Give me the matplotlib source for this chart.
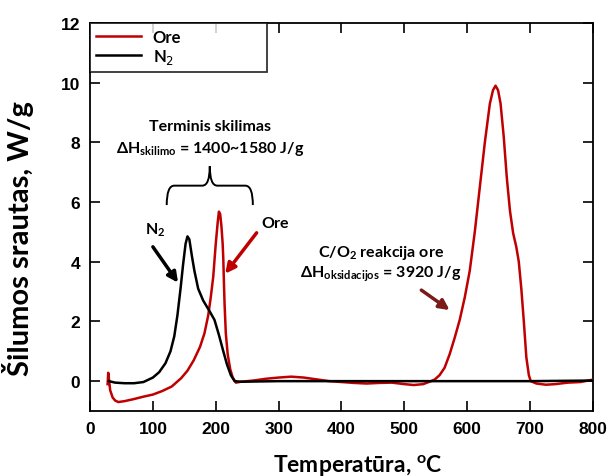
import numpy as np
import matplotlib
matplotlib.use("Agg")
import matplotlib.pyplot as plt
from matplotlib.path import Path
from matplotlib.patches import PathPatch

# DSC curves
ore_T = [28, 29, 30, 32, 36, 40, 45, 55, 70, 85, 100, 115, 130, 145, 155, 165, 175, 182,
         188, 192, 196, 200, 203, 205, 207, 209, 211, 212, 213, 214, 216, 219, 223, 227,
         232, 240, 260, 280, 300, 320, 340, 360, 380, 400, 420, 440, 460, 480, 500, 515,
         530, 540, 548, 556, 564, 572, 580, 588, 596, 604, 612, 620, 628, 636, 641, 645,
         649, 653, 658, 663, 668, 673, 678, 682, 686, 690, 694, 698, 701, 710, 725, 740,
         760, 780, 800]
ore_y = [-0.1, 0.28, 0.1, -0.3, -0.55, -0.65, -0.7, -0.67, -0.6, -0.52, -0.45, -0.33,
         -0.18, 0.1, 0.35, 0.7, 1.15, 1.6, 2.2, 2.8, 3.5, 4.6, 5.3, 5.68, 5.6, 5.2, 4.6,
         4.1, 3.3, 2.6, 1.6, 0.9, 0.4, 0.12, -0.05, -0.02, 0.02, 0.08, 0.12, 0.15, 0.12,
         0.06, 0.0, -0.03, -0.06, -0.08, -0.06, -0.05, -0.1, -0.13, -0.1, -0.02, 0.05, 0.2,
         0.45, 0.9, 1.45, 2.05, 2.8, 3.7, 5.0, 6.5, 8.0, 9.3, 9.75, 9.9, 9.75, 9.3, 8.2,
         6.8, 5.7, 4.96, 4.5, 4.0, 3.1, 2.0, 0.8, 0.2, 0.0, -0.08, -0.12, -0.1, -0.05,
         -0.03, 0.05]

n2_T = [30, 40, 55, 70, 85, 100, 110, 120, 128, 134, 139, 144, 148, 152, 155, 158, 162,
        166, 172, 180, 190, 198, 205, 212, 218, 224, 230, 240, 300, 400, 500, 600, 700, 800]
n2_y = [0.0, -0.05, -0.07, -0.07, -0.03, 0.12, 0.3, 0.6, 1.0, 1.5, 2.2, 3.1, 3.9, 4.6,
        4.85, 4.75, 4.2, 3.7, 3.1, 2.7, 2.35, 2.05, 1.55, 1.0, 0.55, 0.2, 0.0, -0.02, 0.0,
        0.0, 0.0, 0.0, 0.0, 0.02]

x_ticks = [0, 100, 200, 300, 400, 500, 600, 700, 800]
y_ticks = [0, 2, 4, 6, 8, 10, 12]

RED = "#c00000"
DARKRED = "#7b1a1a"
ann_font = "Lato"
tick_font = "Liberation Sans"

fig = plt.figure(figsize=(6.09, 4.77), dpi=100)
ax = fig.add_axes([0.1478, 0.1363, 0.8259, 0.8134])

ax.plot(ore_T, ore_y, color=RED, lw=1.8, label="Ore", zorder=3)
ax.plot(n2_T, n2_y, color="black", lw=1.8, label="N$_2$", zorder=4)

ax.set_xlim(0, 800)
ax.set_ylim(-1, 12)
ax.set_xticks(x_ticks)
ax.set_yticks(y_ticks)
ax.tick_params(direction="in", length=7, width=1.2, top=True, right=True,
               labelsize=12.5, pad=7)
for lab in ax.get_xticklabels() + ax.get_yticklabels():
    lab.set_fontfamily(tick_font)
    lab.set_fontweight("bold")
for s in ax.spines.values():
    s.set_linewidth(1.3)

ax.set_xlabel("Temperatūra, $\\mathregular{^o}$C", fontsize=16.5, fontweight="bold",
              fontfamily=ann_font)
ax.xaxis.set_label_coords(0.533, -0.105)
ax.set_ylabel("Šilumos srautas, W/g", fontsize=21, fontweight="bold",
              fontfamily=ann_font)
ax.yaxis.set_label_coords(-0.112, 0.448)

leg = ax.legend(loc="upper left", bbox_to_anchor=(0, 0.873, 0.352, 0.127), mode="expand",
                borderaxespad=0, fancybox=False, handlelength=2.7, handletextpad=0.7,
                labelspacing=0.15, borderpad=0.35,
                prop={"family": ann_font, "weight": "bold", "size": 12})
leg.get_frame().set_edgecolor("black")
leg.get_frame().set_linewidth(1.3)

# curly brace over the decomposition peaks
bx0, bx1, by0, by1 = 122, 259, 5.9, 7.2
bxm = (bx0 + bx1) / 2
bym = (by0 + by1) / 2
r = 12
verts = [(bx0, by0), (bx0, bym), (bx0 + r, bym),
         (bxm - r, bym), (bxm, bym), (bxm, by1),
         (bxm, bym), (bxm + r, bym),
         (bx1 - r, bym), (bx1, bym), (bx1, by0)]
codes = [Path.MOVETO, Path.CURVE3, Path.CURVE3,
         Path.LINETO, Path.CURVE3, Path.CURVE3,
         Path.CURVE3, Path.CURVE3,
         Path.LINETO, Path.CURVE3, Path.CURVE3]
ax.add_patch(PathPatch(Path(verts, codes), facecolor="none", edgecolor="black", lw=1.4))

txt = dict(fontfamily=ann_font, fontweight="bold", fontsize=11.5, ha="center", va="center")
ax.text(bxm, 8.55, "Terminis skilimas", **txt)
ax.text(bxm, 7.8, "ΔH$_{\\mathregular{skilimo}}$ = 1400~1580 J/g", **txt)
ax.text(463, 4.33, "C/O$_{\\mathregular{2}}$ reakcija ore", **txt)
ax.text(463, 3.6, "ΔH$_{\\mathregular{oksidacijos}}$ = 3920 J/g", **txt)
ax.text(103, 5.1, "N$_{\\mathregular{2}}$", **txt)
ax.text(294, 5.3, "Ore", **txt)

arr = dict(arrowstyle="-|>,head_length=0.6,head_width=0.3", lw=2.5, shrinkA=0, shrinkB=0)
ax.annotate("", xy=(140, 3.3), xytext=(100, 4.5), arrowprops=dict(color="black", **arr))
ax.annotate("", xy=(215, 3.6), xytext=(265, 4.97), arrowprops=dict(color=RED, **arr))
ax.annotate("", xy=(572, 2.38), xytext=(527, 3.05), arrowprops=dict(color=DARKRED, **arr))

fig.savefig("out.png", dpi=100)
